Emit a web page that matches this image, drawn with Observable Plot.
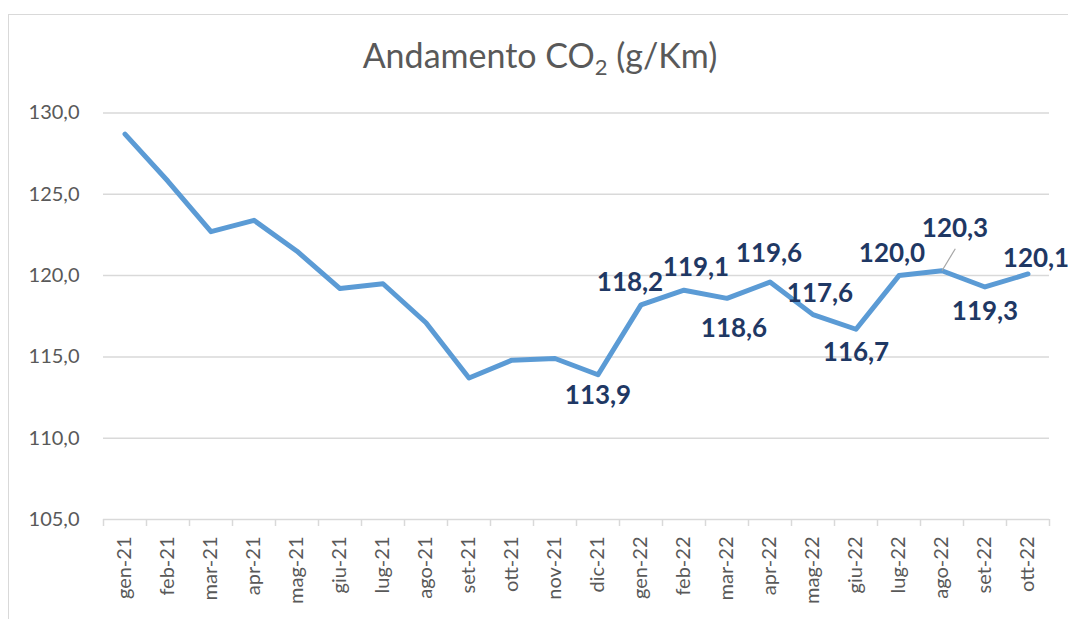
<!DOCTYPE html>
<html>
<head>
<meta charset="utf-8">
<script src="https://cdn.jsdelivr.net/npm/d3@7"></script>
<script src="https://cdn.jsdelivr.net/npm/@observablehq/plot@0.6"></script>
<style>
  html, body { margin: 0; padding: 0; background: #fff; overflow: hidden; }
  #wrap { position: relative; width: 1068px; height: 619px; overflow: hidden; }
  #border { position: absolute; left: 8px; top: 14px; width: 1100px; height: 700px;
            border: 1.5px solid #d9d9d9; box-sizing: border-box; }
  #chart { position: absolute; left: 0; top: 0; }
</style>
</head>
<body>
<div id="wrap"><div id="border"></div><div id="chart"></div></div>
<script>
const months = ["gen-21","feb-21","mar-21","apr-21","mag-21","giu-21","lug-21","ago-21","set-21","ott-21","nov-21","dic-21",
                "gen-22","feb-22","mar-22","apr-22","mag-22","giu-22","lug-22","ago-22","set-22","ott-22"];
const co2 = [128.7,125.8,122.7,123.4,121.5,119.2,119.5,117.1,113.7,114.8,114.9,113.9,
             118.2,119.1,118.6,119.6,117.6,116.7,120.0,120.3,119.3,120.1];
const yTicks = [105,110,115,120,125,130];
const labeledMonths = ["dic-21","gen-22","feb-22","mar-22","apr-22","mag-22","giu-22","lug-22","ago-22","set-22","ott-22"];
// label placement (pixel nudges relative to the point)
const labelNudge = {
  "dic-21": [0, 21], "gen-22": [-11, -22], "feb-22": [12, -23], "mar-22": [7, 30],
  "apr-22": [-1, -28], "mag-22": [7, -21], "giu-22": [0, 23], "lug-22": [-7, -22],
  "ago-22": [13, -42], "set-22": [0, 25], "ott-22": [8, -15]
};

const data = months.map((m, i) => ({i, m, v: co2[i]}));
const fmt = d => d.toFixed(1).replace(".", ",");

const W = 1068, H = 619, ML = 103, MR = 19, MT = 112.5, MB = 100;
const pxX = (W - ML - MR) / months.length;
const pxY = (H - MT - MB) / (yTicks[yTicks.length-1] - yTicks[0]);

const labelMarks = labeledMonths.map(m => {
  const d = data.find(e => e.m === m);
  const [dx, dy] = labelNudge[m];
  return Plot.text([d], {x: "i", y: "v", text: e => fmt(e.v), dx, dy,
    fill: "#1f3864", fontSize: 26, fontWeight: "bold", textAnchor: "middle", lineAnchor: "middle"});
});

const leader = data.find(e => e.m === "ago-22");

const plot = Plot.plot({
  width: W, height: H, marginLeft: ML, marginRight: MR, marginTop: MT, marginBottom: MB,
  style: {background: "transparent", fontFamily: "Lato, sans-serif", overflow: "visible"},
  x: {type: "linear", domain: [-0.5, months.length - 0.5], label: null},
  y: {domain: [yTicks[0], yTicks[yTicks.length-1]], label: null},
  marks: [
    Plot.gridY(yTicks.slice(1), {stroke: "#d9d9d9", strokeOpacity: 1, strokeWidth: 1.5}),
    Plot.ruleY([yTicks[0]], {stroke: "#d9d9d9", strokeWidth: 1.5}),
    Plot.axisY(yTicks, {tickSize: 0, tickPadding: 24, tickFormat: fmt, fontSize: 20, fill: "#595959"}),
    Plot.axisX(d3.range(months.length + 1).map(i => i - 0.5), {tickSize: 7, stroke: "#d9d9d9", strokeWidth: 1.5, tickFormat: () => ""}),
    Plot.axisX(d3.range(months.length), {tickSize: 0, tickPadding: 17, tickRotate: -90, tickFormat: i => months[i], fontSize: 20, fill: "#595959"}),
    Plot.line(data, {x: "i", y: "v", stroke: "#5b9bd5", strokeWidth: 5, strokeLinejoin: "round", strokeLinecap: "round"}),
    Plot.link([leader], {x1: "i", y1: "v", x2: e => e.i + 13.3 / pxX, y2: e => e.v + 22 / pxY, stroke: "#a6a6a6", strokeWidth: 1.2}),
    ...labelMarks
  ]
});

document.getElementById("chart").appendChild(plot);

// Title with subscript
const svg = d3.select(plot);
const t = svg.append("text").attr("x", 540).attr("y", 68).attr("text-anchor", "middle")
  .attr("font-family", "Lato, sans-serif").attr("font-size", 34).attr("fill", "#595959");
t.append("tspan").text("Andamento CO");
t.append("tspan").attr("font-size", 22).attr("dy", 7).text("2");
t.append("tspan").attr("dy", -7).text(" (g/Km)");
</script>
</body>
</html>
